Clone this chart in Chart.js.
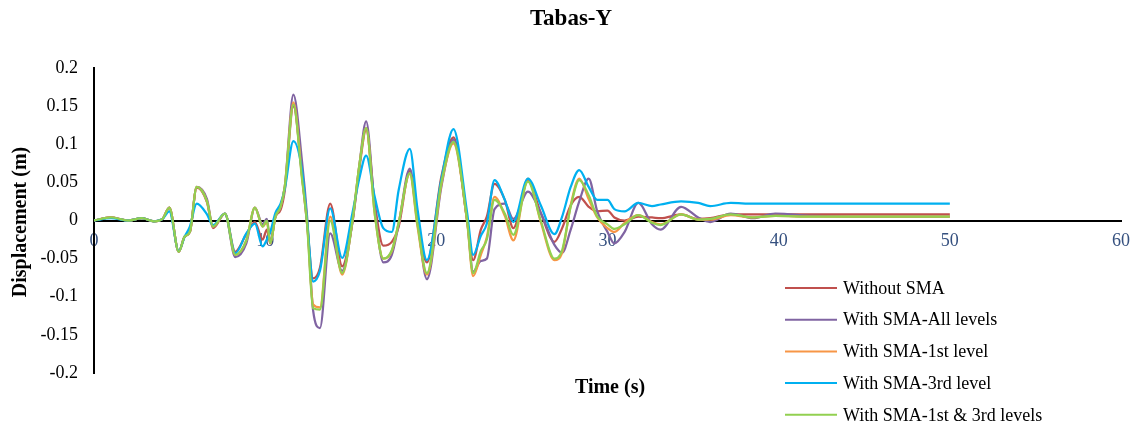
<!DOCTYPE html>
<html lang="en">

<head>
    <meta charset="UTF-8">
    <script src="https://cdn.jsdelivr.net/npm/chart.js"></script>
    <title>Tabas-Y</title>
    <style>
        body { margin: 0; background: #fff; }
        #box { width: 1140px; height: 427px; position: relative; }
    </style>
</head>

<body>
    <div id="box"><canvas id="dispChart"></canvas></div>

    <script>
        // time (s)
        const times = [0, 1, 2, 2.8, 3.5, 4.0, 4.4, 4.95, 5.3, 5.6,
            6.0, 6.6, 6.95, 7.65, 8.25, 8.9, 9.4, 9.85, 10.1, 10.3,
            10.6, 10.9, 11.15, 11.65, 12.15, 12.45, 12.8, 13.2, 13.8, 14.5,
            15.1, 15.5, 15.9, 16.4, 16.9, 17.4, 17.8, 18.45, 18.9, 19.45,
            20.3, 21.0, 21.8, 22.15, 22.6, 22.95, 23.4, 24.0, 24.5, 25.35,
            26.1, 26.9, 27.35, 27.85, 28.35, 28.9, 29.4, 30.0, 30.4, 31.0,
            31.8, 32.6, 33.1, 34.3, 35.3, 36.0, 37.2, 38.5, 39.8, 42,
            45, 48, 50];

        // displacement (m)
        const withoutSMA = [0, 0.004, 0, 0.003, -0.001, 0.002, 0.017, -0.041, -0.021, -0.015,
            0.043, 0.024, -0.010, 0.009, -0.041, -0.018, -0.002, -0.025, -0.012, -0.030,
            0.005, 0.014, 0.040, 0.150, 0.060, -0.005, -0.076, -0.062, 0.022, -0.060,
            -0.002, 0.068, 0.119, 0.023, -0.033, -0.028, -0.008, 0.065, 0.0, -0.055,
            0.058, 0.109, 0.0, -0.052, -0.012, 0.005, 0.048, 0.027, -0.010, 0.052,
            0.010, -0.028, -0.010, 0.020, 0.031, 0.018, 0.012, 0.013, 0.004, 0.0,
            0.005, 0.004, 0.003, 0.008, 0.002, 0.003, 0.008, 0.008, 0.008, 0.008,
            0.008, 0.008, 0.008];

        const smaAll = [0, 0.004, 0, 0.003, -0.001, 0.002, 0.017, -0.041, -0.021, -0.015,
            0.044, 0.028, -0.008, 0.009, -0.048, -0.030, 0.017, -0.005, 0.002, -0.028,
            0.005, 0.018, 0.045, 0.165, 0.078, 0.005, -0.118, -0.141, -0.017, -0.066,
            -0.002, 0.072, 0.130, 0.018, -0.055, -0.045, -0.005, 0.068, 0.0, -0.077,
            0.045, 0.106, 0.0, -0.067, -0.053, -0.050, 0.015, 0.022, 0.002, 0.038,
            0.010, -0.032, -0.042, -0.012, 0.025, 0.055, 0.012, -0.015, -0.030, -0.015,
            0.023, -0.005, -0.012, 0.018, 0.004, -0.002, 0.009, 0.003, 0.009, 0.006,
            0.005, 0.005, 0.005];

        const sma1st = [0, 0.004, 0, 0.003, -0.001, 0.002, 0.017, -0.041, -0.021, -0.015,
            0.044, 0.025, -0.008, 0.009, -0.045, -0.026, 0.017, -0.008, -0.002, -0.030,
            0.005, 0.018, 0.045, 0.155, 0.058, -0.003, -0.110, -0.114, 0.005, -0.071,
            0.0, 0.072, 0.121, 0.009, -0.050, -0.040, -0.003, 0.061, -0.008, -0.071,
            0.048, 0.101, -0.002, -0.073, -0.045, -0.022, 0.031, 0.006, -0.026, 0.055,
            -0.002, -0.052, -0.042, 0.020, 0.055, 0.028, 0.004, -0.010, -0.015, -0.003,
            0.007, -0.002, -0.005, 0.008, 0.001, 0.001, 0.007, 0.004, 0.006, 0.005,
            0.005, 0.005, 0.005];

        const sma3rd = [0, 0.003, 0, 0.003, -0.001, 0.002, 0.012, -0.040, -0.021, -0.008,
            0.022, 0.008, -0.006, 0.009, -0.043, -0.017, -0.004, -0.034, -0.025, -0.015,
            0.010, 0.022, 0.042, 0.104, 0.066, 0.0, -0.080, -0.066, 0.016, -0.049,
            0.010, 0.055, 0.085, 0.031, -0.010, -0.015, 0.040, 0.094, 0.015, -0.052,
            0.055, 0.120, 0.010, -0.045, -0.020, -0.004, 0.053, 0.027, -0.002, 0.055,
            0.020, -0.018, 0.005, 0.044, 0.066, 0.044, 0.027, 0.027, 0.015, 0.012,
            0.023, 0.019, 0.021, 0.025, 0.023, 0.019, 0.023, 0.022, 0.022, 0.022,
            0.022, 0.022, 0.022];

        const sma1st3rd = [0, 0.004, 0, 0.003, -0.001, 0.002, 0.017, -0.041, -0.021, -0.015,
            0.044, 0.025, -0.008, 0.009, -0.045, -0.026, 0.017, -0.008, 0.0, -0.030,
            0.005, 0.018, 0.045, 0.152, 0.055, -0.005, -0.115, -0.117, 0.0, -0.069,
            0.0, 0.072, 0.121, 0.009, -0.050, -0.039, -0.003, 0.062, -0.005, -0.069,
            0.050, 0.103, 0.0, -0.069, -0.040, -0.025, 0.027, 0.009, -0.019, 0.051,
            0.0, -0.050, -0.039, 0.018, 0.053, 0.033, 0.005, -0.005, -0.011, -0.005,
            0.007, -0.003, -0.006, 0.008, 0.001, 0.002, 0.008, 0.004, 0.006, 0.005,
            0.005, 0.005, 0.005];

        const xTicks = [0, 10, 20, 30, 40, 50, 60];
        const yTicks = [-0.2, -0.15, -0.1, -0.05, 0, 0.05, 0.1, 0.15, 0.2];

        const serif = '"Liberation Serif", "Times New Roman", serif';

        function pts(vals) {
            return times.map((t, i) => ({ x: t, y: vals[i] }));
        }

        // title, axis titles and legend drawn on the canvas
        const extras = {
            id: 'extras',
            afterDraw(chart) {
                const c = chart.ctx;
                c.save();
                c.fillStyle = '#000';
                c.textAlign = 'center';
                c.textBaseline = 'middle';
                c.font = 'bold 23px ' + serif;
                c.fillText('Tabas-Y', 571, 19);
                c.font = 'bold 20px ' + serif;
                c.fillText('Time (s)', 610, 388);
                c.save();
                c.translate(21, 222);
                c.rotate(-Math.PI / 2);
                c.fillText('Displacement (m)', 0, 0);
                c.restore();

                c.textAlign = 'left';
                c.font = '18px ' + serif;
                chart.data.datasets.forEach((ds, i) => {
                    const y = 288 + i * 31.7;
                    c.strokeStyle = ds.borderColor;
                    c.lineWidth = 2;
                    c.beginPath();
                    c.moveTo(785, y);
                    c.lineTo(837, y);
                    c.stroke();
                    c.fillText(ds.label, 843, y + 1);
                });
                c.restore();
            }
        };

        // lower order is drawn on top: green last, red first
        const ctx = document.getElementById('dispChart').getContext('2d');
        new Chart(ctx, {
            type: 'line',
            data: {
                datasets: [
                    { label: 'Without SMA', data: pts(withoutSMA), borderColor: '#C0504D', order: 4 },
                    { label: 'With SMA-All levels', data: pts(smaAll), borderColor: '#8064A2', order: 3 },
                    { label: 'With SMA-1st level', data: pts(sma1st), borderColor: '#F79646', order: 2 },
                    { label: 'With SMA-3rd level', data: pts(sma3rd), borderColor: '#00B0F0', order: 1 },
                    { label: 'With SMA-1st & 3rd levels', data: pts(sma1st3rd), borderColor: '#92D050', order: 0 }
                ]
            },
            options: {
                responsive: true,
                maintainAspectRatio: false,
                animation: false,
                layout: { padding: { left: 0, right: 14, top: 68, bottom: 54 } },
                elements: {
                    point: { radius: 0 },
                    line: { borderWidth: 2.25, cubicInterpolationMode: 'monotone', fill: false }
                },
                scales: {
                    x: {
                        type: 'linear',
                        position: { y: 0 },
                        min: 0,
                        max: 60,
                        afterBuildTicks: (s) => { s.ticks = xTicks.map(v => ({ value: v })); },
                        grid: { display: false, drawTicks: false },
                        border: { display: true, color: '#000', width: 2 },
                        ticks: {
                            padding: 10,
                            color: '#35507F',
                            font: { family: serif, size: 18 },
                            maxRotation: 0
                        }
                    },
                    y: {
                        min: -0.2,
                        max: 0.2,
                        afterBuildTicks: (s) => { s.ticks = yTicks.map(v => ({ value: v })); },
                        afterFit: (s) => { s.width = 94; },
                        grid: { display: false, drawTicks: false },
                        border: { display: true, color: '#000', width: 2 },
                        ticks: {
                            padding: 16,
                            color: '#000',
                            font: { family: serif, size: 18 },
                            callback: (v) => String(v)
                        }
                    }
                },
                plugins: {
                    legend: { display: false },
                    title: { display: false },
                    tooltip: { enabled: false }
                }
            },
            plugins: [extras]
        });
    </script>
</body>

</html>
